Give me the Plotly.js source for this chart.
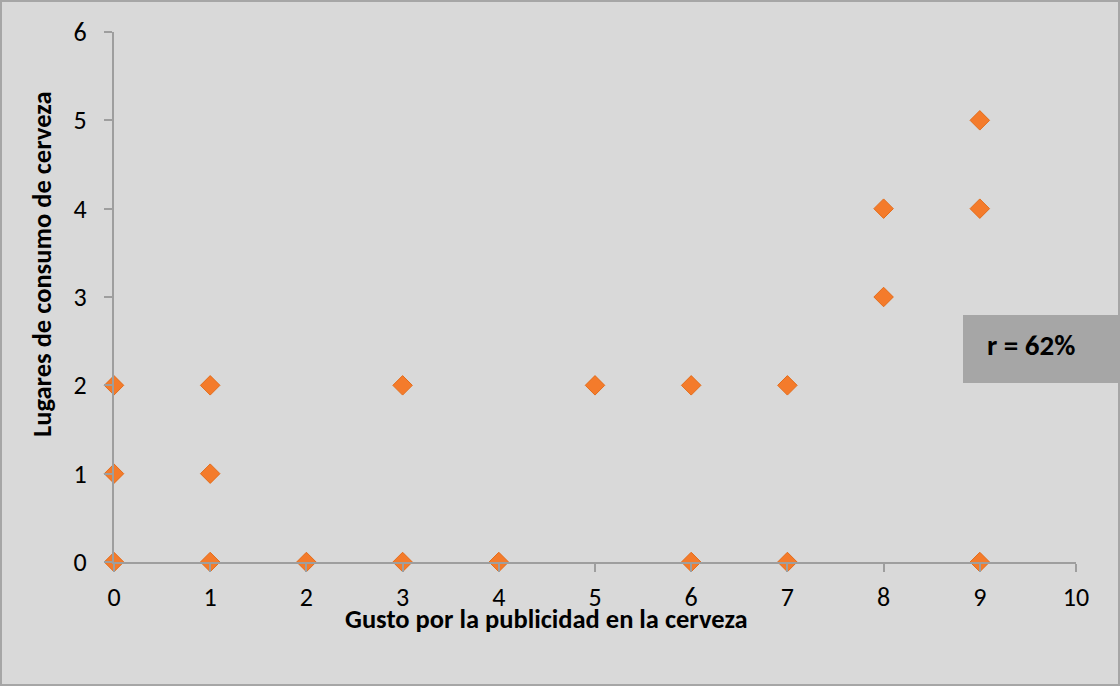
<!DOCTYPE html>
<html>
<head>
<meta charset="utf-8">
<script src="https://cdn.plot.ly/plotly-3.0.1.min.js"></script>
<style>
html,body{margin:0;padding:0;background:#d9d9d9;}
#chart{width:1120px;height:686px;}
</style>
</head>
<body>
<div id="chart"></div>
<script>
const gustoX = [0, 0, 0, 1, 1, 1, 2, 3, 3, 4, 5, 6, 6, 7, 7, 8, 8, 9, 9, 9];
const lugaresY = [2, 1, 0, 2, 1, 0, 0, 2, 0, 0, 2, 2, 0, 2, 0, 4, 3, 5, 4, 0];
const xTicks = [0, 1, 2, 3, 4, 5, 6, 7, 8, 9, 10];
const yTicks = [0, 1, 2, 3, 4, 5, 6];
const xTitle = 'Gusto por la publicidad en la cerveza';
const yTitle = 'Lugares de consumo de cerveza';
const rLabel = 'r = 62%';

const font = 'Carlito, Calibri, Lato, "Liberation Sans", sans-serif';

const trace = {
  type: 'scatter',
  mode: 'markers',
  x: gustoX,
  y: lugaresY,
  marker: {symbol: 'diamond', size: 15, color: '#F47B2B', line: {color: '#E36C1A', width: 1}},
  hoverinfo: 'x+y',
  cliponaxis: false
};

const px = v => (v - 114) / 962;
const py = v => (562 - v) / 530;

const layout = {
  width: 1120, height: 686,
  paper_bgcolor: '#d9d9d9',
  plot_bgcolor: '#d9d9d9',
  margin: {l: 114, r: 44, t: 32, b: 124},
  showlegend: false,
  font: {family: font, size: 26, color: '#000'},
  xaxis: {
    range: [0, 10], tickvals: xTicks, ticktext: xTicks.map(String),
    showgrid: false, zeroline: false,
    showline: true, linecolor: '#9e9e9e', linewidth: 2,
    ticks: 'outside', ticklen: 8, tickwidth: 2, tickcolor: '#9e9e9e',
    tickfont: {family: font, size: 26}, ticklabelstandoff: 3, fixedrange: true
  },
  yaxis: {
    range: [0, 6], tickvals: yTicks, ticktext: yTicks.map(String),
    showgrid: false, zeroline: false,
    showline: true, linecolor: '#9e9e9e', linewidth: 2,
    ticks: 'outside', ticklen: 8, tickwidth: 2, tickcolor: '#9e9e9e',
    tickfont: {family: font, size: 26}, ticklabelstandoff: 12, fixedrange: true
  },
  shapes: [
    {type: 'rect', xref: 'paper', yref: 'paper',
     x0: px(1), x1: px(1119), y0: py(685), y1: py(1),
     line: {color: '#a6a6a6', width: 2}, fillcolor: 'rgba(0,0,0,0)', layer: 'below'},
    {type: 'rect', xref: 'paper', yref: 'paper',
     x0: px(963), x1: px(1121), y0: py(383), y1: py(315),
     line: {width: 0}, fillcolor: '#a6a6a6', layer: 'above'}
  ],
  annotations: [
    {text: '<b>' + xTitle + '</b>', xref: 'paper', yref: 'paper',
     x: px(546), y: py(619), xanchor: 'center', yanchor: 'middle',
     showarrow: false, font: {family: font, size: 26.5, color: '#000'}},
    {text: '<b>' + yTitle + '</b>', xref: 'paper', yref: 'paper',
     x: px(42), y: py(264), xanchor: 'center', yanchor: 'middle',
     textangle: -90, showarrow: false, font: {family: font, size: 26.5, color: '#000'}},
    {text: '<b>' + rLabel + '</b>', xref: 'paper', yref: 'paper',
     x: px(985), y: py(345), xanchor: 'left', yanchor: 'middle',
     showarrow: false, font: {family: font, size: 29, color: '#000'}}
  ]
};

Plotly.newPlot('chart', [trace], layout, {displayModeBar: false, staticPlot: true});
</script>
</body>
</html>
